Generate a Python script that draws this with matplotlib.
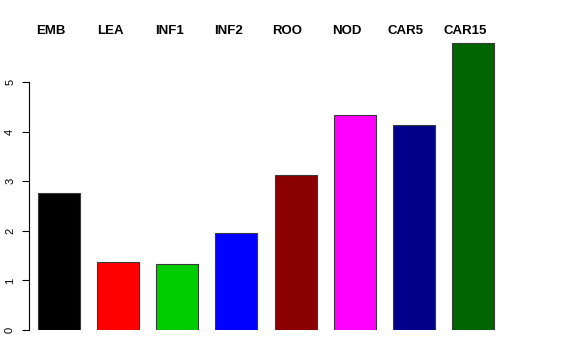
import numpy as np
import matplotlib
matplotlib.use("Agg")
import matplotlib.pyplot as plt
import matplotlib.transforms as mtransforms

# values
categories = ["EMB", "LEA", "INF1", "INF2", "ROO", "NOD", "CAR5", "CAR15"]
values = [2.76, 1.38, 1.33, 1.96, 3.12, 4.34, 4.13, 5.79]
colours = ["#000000", "#FF0000", "#00CD00", "#0000FF",
           "#8B0000", "#FF00FF", "#00008B", "#006400"]
yticks = [0, 1, 2, 3, 4, 5]

plt.rcParams["font.family"] = ["Liberation Sans", "DejaVu Sans"]

W, H = 576, 360
fig = plt.figure(figsize=(W / 100, H / 100), dpi=100)

# axes placed in pixel coordinates: left edge at the y axis line, bottom at y=0
left, right, bottom, top = 29, 503, 330, 30
ax = fig.add_axes([left / W, 1 - bottom / H, (right - left) / W, (bottom - top) / H])

x = np.arange(len(categories))
ax.bar(x, values, width=0.71, color=colours, edgecolor="#3a3a3a", linewidth=0.8)

ax.set_xlim(-0.507, 7.507)
ax.set_ylim(0, (bottom - top) / 49.6)

for s in ["top", "right", "bottom"]:
    ax.spines[s].set_visible(False)
ax.spines["left"].set_bounds(0, 5)
ax.spines["left"].set_linewidth(0.8)
ax.set_xticks([])
ax.set_yticks(yticks)
ax.set_yticklabels([str(t) for t in yticks], rotation=90, va="center", fontsize=8)
ax.tick_params(axis="y", length=5, width=0.8, pad=5)

# category names along the top, sitting a little left of each bar
shift = mtransforms.ScaledTranslation(-8 / 100, -1 / 100, fig.dpi_scale_trans)
for xi, name in zip(x, categories):
    ax.text(xi, 1.0, name, transform=ax.get_xaxis_transform() + shift,
            ha="center", va="center", fontsize=9.5, fontweight="bold")

fig.savefig("out.png", dpi=100)
